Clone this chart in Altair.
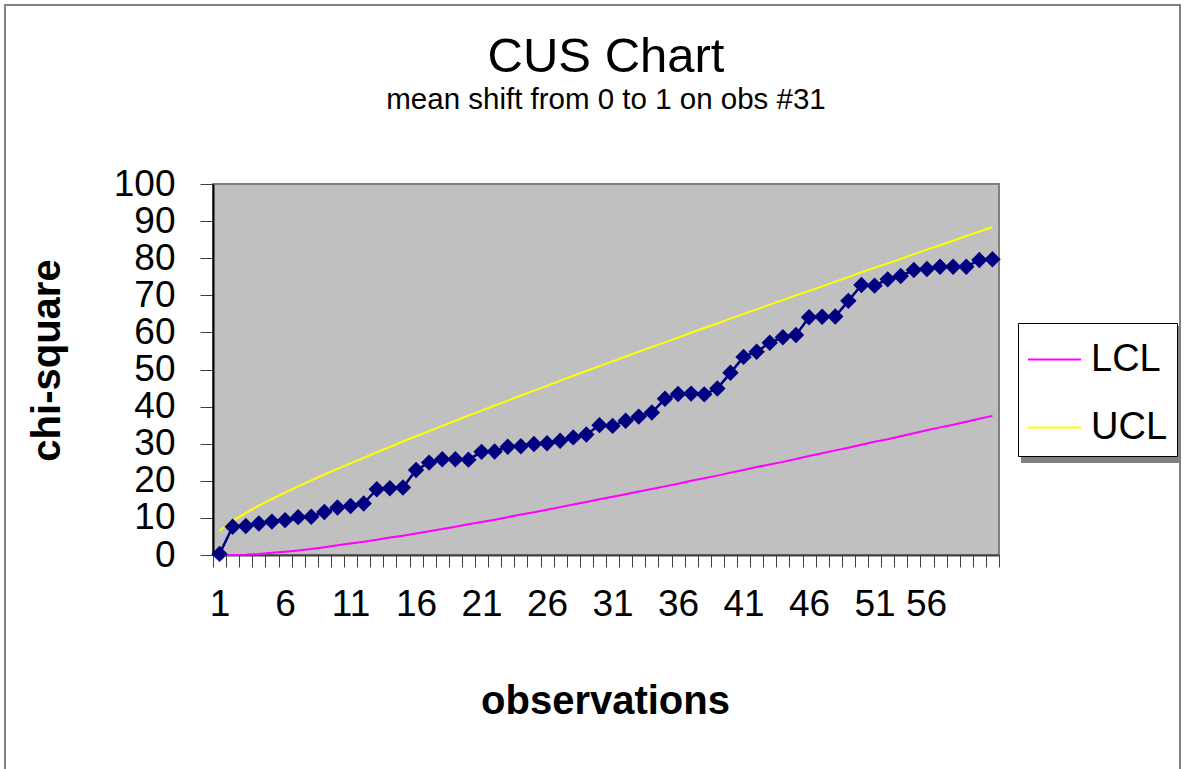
import altair as alt
import pandas as pd

# observation numbers (x categories)
observations = list(range(1, 61))

# cumulative chi-square statistic per observation
chi_square = [
    0.3, 7.6, 7.8, 8.5, 9.0, 9.4, 10.2, 10.3, 11.6, 12.8,
    13.2, 13.9, 17.7, 18.0, 18.2, 22.9, 24.9, 25.8, 25.8, 25.7,
    27.8, 27.9, 29.2, 29.3, 29.9, 30.1, 30.8, 31.7, 32.5, 35.0,
    34.8, 36.2, 37.3, 38.4, 42.1, 43.4, 43.5, 43.3, 44.9, 49.1,
    53.4, 54.8, 57.2, 58.7, 59.3, 64.1, 64.2, 64.3, 68.5, 72.8,
    72.6, 74.3, 75.2, 76.8, 77.1, 77.7, 77.7, 77.7, 79.5, 79.7,
]

# lower control limit
lcl = [
    0.0, 0.0, 0.1, 0.3, 0.6, 0.9, 1.2, 1.6, 2.1, 2.6,
    3.1, 3.6, 4.1, 4.7, 5.2, 5.8, 6.4, 7.0, 7.6, 8.3,
    8.9, 9.5, 10.2, 10.9, 11.5, 12.2, 12.9, 13.6, 14.3, 15.0,
    15.7, 16.4, 17.1, 17.8, 18.5, 19.2, 20.0, 20.7, 21.4, 22.2,
    22.9, 23.7, 24.4, 25.1, 25.9, 26.7, 27.4, 28.2, 28.9, 29.7,
    30.5, 31.2, 32.0, 32.8, 33.6, 34.4, 35.1, 35.9, 36.7, 37.5,
]

# upper control limit
ucl = [
    6.6, 9.2, 11.3, 13.3, 15.1, 16.8, 18.5, 20.1, 21.7, 23.2,
    24.7, 26.2, 27.7, 29.1, 30.6, 32.0, 33.4, 34.8, 36.2, 37.6,
    38.9, 40.3, 41.6, 43.0, 44.3, 45.6, 47.0, 48.3, 49.6, 50.9,
    52.2, 53.5, 54.8, 56.1, 57.3, 58.6, 59.9, 61.2, 62.4, 63.7,
    65.0, 66.2, 67.5, 68.7, 70.0, 71.2, 72.4, 73.7, 74.9, 76.2,
    77.4, 78.6, 79.8, 81.1, 82.3, 83.5, 84.7, 86.0, 87.2, 88.4,
]

limit_names = ["LCL", "UCL"]
limit_colors = ["#FF00FF", "#FFFF00"]
y_ticks = list(range(0, 101, 10))

FONT = "Liberation Sans"

series_df = pd.DataFrame({"obs": observations, "value": chi_square})
limits_df = pd.DataFrame({
    "obs": observations * 2,
    "value": lcl + ucl,
    "limit": ["LCL"] * len(lcl) + ["UCL"] * len(ucl),
})

x_enc = alt.X(
    "obs:O",
    scale=alt.Scale(paddingInner=0, paddingOuter=0),
    axis=alt.Axis(
        title="observations",
        labelExpr="(datum.value - 1) % 5 == 0 ? datum.label : ''",
        labelAngle=0,
        labelOverlap=False,
        labelFont=FONT,
        labelFontSize=37,
        labelColor="black",
        labelPadding=19,
        labelOffset={"condition": {"test": "datum.value == 56", "value": -14}, "value": 0},
        tickBand="extent",
        tickSize=12,
        tickColor="#404040",
        domainColor="#404040",
        domainWidth=2,
        grid=False,
        titleFont=FONT,
        titleFontSize=40,
        titleFontWeight="bold",
        titleColor="black",
        titleX=392,
        titleY=158,
        titleAlign="center",
        titleBaseline="alphabetic",
    ),
)

y_enc = alt.Y(
    "value:Q",
    scale=alt.Scale(domain=[0, 100], nice=False),
    axis=alt.Axis(
        title="chi-square",
        values=y_ticks,
        labelFont=FONT,
        labelFontSize=37,
        labelColor="black",
        labelPadding=25,
        tickSize=13,
        tickColor="#404040",
        domainColor="black",
        domainWidth=2,
        grid=False,
        titleFont=FONT,
        titleFontSize=40,
        titleFontWeight="bold",
        titleColor="black",
        titleAngle=270,
        titleX=-166,
        titleY=176,
        titleAlign="center",
        titleBaseline="middle",
    ),
)

# outer chart frame
frame = alt.Chart(pd.DataFrame({"k": [0]})).mark_rect(
    fillOpacity=0, stroke="#808080", strokeWidth=2, clip=False
).encode(
    x=alt.value(-208), x2=alt.value(967), y=alt.value(-179), y2=alt.value(800)
)

# drop shadow behind the legend box
legend_shadow = alt.Chart(pd.DataFrame({"k": [0]})).mark_rect(
    fill="#808080", clip=False
).encode(
    x=alt.value(808), x2=alt.value(968), y=alt.value(142), y2=alt.value(279)
)

limits = alt.Chart(limits_df).mark_line(strokeWidth=2).encode(
    x=x_enc,
    y=y_enc,
    color=alt.Color(
        "limit:N",
        scale=alt.Scale(domain=limit_names, range=limit_colors),
        legend=alt.Legend(
            title=None,
            orient="none",
            legendX=805,
            legendY=139,
            symbolType="stroke",
            symbolSize=2809,
            symbolStrokeWidth=2,
            labelFont=FONT,
            labelFontSize=38,
            labelColor="black",
            labelOffset=9,
            labelLimit=0,
            padding=9,
            rowPadding=21,
            strokeColor="black",
            fillColor="white",
        ),
    ),
)

stat_line = alt.Chart(series_df).mark_line(color="#000080", strokeWidth=2.5).encode(
    x=x_enc, y=y_enc
)
stat_points = alt.Chart(series_df).mark_point(
    shape="diamond", filled=True, size=270, color="#000080", opacity=1
).encode(x=x_enc, y=y_enc)

chart = alt.layer(frame, legend_shadow, limits, stat_line, stat_points).properties(
    width=786,
    height=371,
    background="white",
    title=alt.TitleParams(
        text="CUS Chart",
        subtitle="mean shift from 0 to 1 on obs #31",
        font=FONT,
        fontSize=49,
        fontWeight="normal",
        color="black",
        subtitleFont=FONT,
        subtitleFontSize=29.5,
        subtitleColor="black",
        subtitlePadding=4,
        anchor="middle",
        offset=-110,
    ),
    autosize=alt.AutoSizeParams(type="none"),
    padding={"left": 213, "top": 184, "right": 185, "bottom": 214},
).configure_view(
    stroke="#808080", strokeWidth=2, fill="#C0C0C0"
)

chart.save("out.html", embed_options={"renderer": "svg", "actions": False})
